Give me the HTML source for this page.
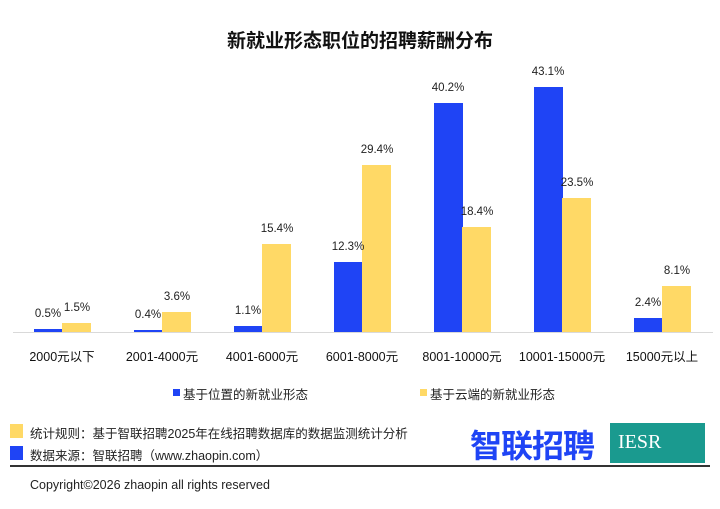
<!DOCTYPE html><html><head><meta charset="utf-8"><style>
body{margin:0;background:#fff;font-family:"Liberation Sans","Noto Sans CJK SC",sans-serif;}
.w{position:relative;width:720px;height:509px;overflow:hidden;background:#fff}
.t{position:absolute;top:26px;left:0;width:720px;text-align:center;font-size:19px;font-weight:bold;color:#111}
.b{position:absolute;width:29px}
.bl{background:#1f44f5}.ye{background:#ffd966}
.v{position:absolute;width:60px;text-align:center;font-size:11.5px;color:#222}
.c{position:absolute;top:346px;width:100px;text-align:center;font-size:12.5px;color:#111}
.a{position:absolute;top:332px;left:13px;width:700px;height:1px;background:#d9d9d9}
.tx{position:absolute;font-size:12.5px;color:#222;white-space:nowrap}
</style></head><body><div class="w">
<div class="t">新就业形态职位的招聘薪酬分布</div>
<div class="a"></div>
<div id="bars"></div>
<script>
var b=[0.5,0.4,1.1,12.3,40.2,43.1,2.4],y=[1.5,3.6,15.4,29.4,18.4,23.5,8.1],
c=["2000元以下","2001-4000元","4001-6000元","6001-8000元","8001-10000元","10001-15000元","15000元以上"],h="";
for(var i=0;i<7;i++){var x=62+100*i,hb=b[i]*5.69,hy=y[i]*5.69;
h+='<div class="b bl" style="left:'+(x-28)+'px;top:'+(332-hb)+'px;height:'+hb+'px"></div>';
h+='<div class="b ye" style="left:'+x+'px;top:'+(332-hy)+'px;height:'+hy+'px"></div>';
h+='<div class="v" style="left:'+(x-44)+'px;top:'+(332-hb-21)+'px">'+b[i].toFixed(1)+'%</div>';
h+='<div class="v" style="left:'+(x-15)+'px;top:'+(332-hy-21)+'px">'+y[i].toFixed(1)+'%</div>';
h+='<div class="c" style="left:'+(x-50)+'px">'+c[i]+'</div>';}
document.getElementById("bars").innerHTML=h;
</script>
<div style="position:absolute;left:173px;top:389px;width:7px;height:7px;background:#1f44f5"></div>
<div class="tx" style="left:183px;top:384px">基于位置的新就业形态</div>
<div style="position:absolute;left:420px;top:389px;width:7px;height:7px;background:#ffd966"></div>
<div class="tx" style="left:430px;top:384px">基于云端的新就业形态</div>
<div style="position:absolute;left:10px;top:424px;width:13px;height:14px;background:#ffd966"></div>
<div class="tx" style="left:30px;top:423px">统计规则：基于智联招聘2025年在线招聘数据库的数据监测统计分析</div>
<div style="position:absolute;left:10px;top:446px;width:13px;height:14px;background:#1f44f5"></div>
<div class="tx" style="left:30px;top:445px">数据来源：智联招聘（www.zhaopin.com）</div>
<div style="position:absolute;left:470px;top:421px;font-size:32px;font-weight:bold;color:#1f44f5;letter-spacing:-1px">智联招聘</div>
<div style="position:absolute;left:610px;top:423px;width:95px;height:40px;background:#1a9a8f;color:#fff;font-family:'Liberation Serif',serif;font-size:20px;line-height:38px;padding-left:8px;box-sizing:border-box">IESR</div>
<div style="position:absolute;left:10px;top:465px;width:700px;height:2px;background:#333"></div>
<div class="tx" style="left:30px;top:478px">Copyright©2026 zhaopin all rights reserved</div>
</div></body></html>
